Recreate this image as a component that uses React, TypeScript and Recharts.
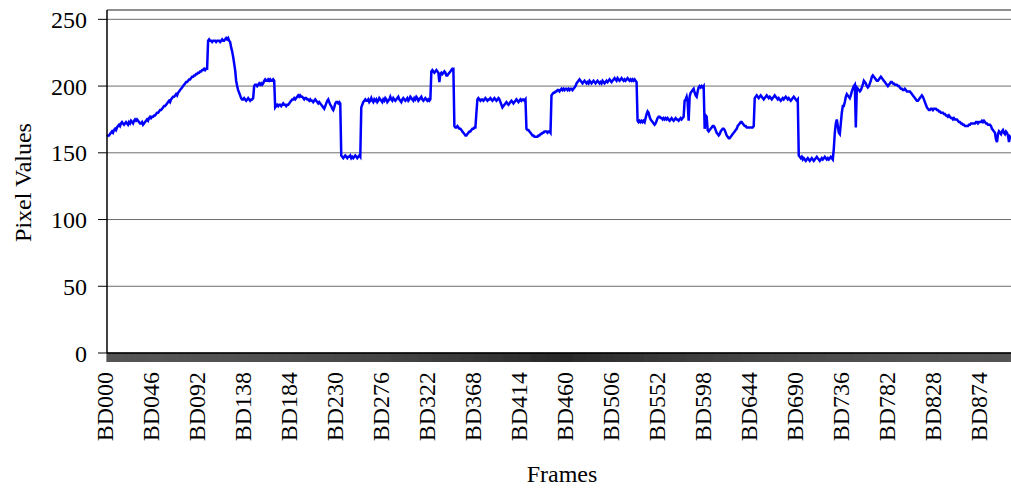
import React from 'react';
import { LineChart, Line, XAxis, YAxis, CartesianGrid, ReferenceLine, Label } from 'recharts';

// y axis
const Y_TICKS = [0, 50, 100, 150, 200, 250];
const Y_AXIS_MAX = 257;

// one frame label every 46 frames (BD000, BD046, ...)
const LABEL_STEP = 46;

// pixel value per frame, BD000..BD903
const PIXEL_VALUES: number[] = [
  // BD000
  162, 163, 163, 164, 165, 166, 165, 167, 168, 167, 169, 170, 171, 170, 172, 173, 172, 171, 172, 173, 172, 171, 173,
  172, 174, 173, 172, 174, 175, 174, 175, 174, 173, 172, 172, 173, 171, 172, 173, 174, 175, 174, 176, 177, 176, 177,
  // BD046
  177, 178, 178, 179, 180, 180, 181, 182, 182, 183, 184, 185, 185, 186, 187, 188, 189, 188, 190, 191, 192, 192, 193,
  194, 193, 195, 196, 197, 198, 199, 200, 201, 202, 203, 203, 204, 205, 205, 206, 207, 207, 208, 208, 209, 209, 210,
  // BD092
  210, 211, 211, 212, 212, 213, 212, 213, 213, 234, 235, 234, 234, 233, 234, 234, 234, 233, 234, 234, 234, 233, 234,
  235, 234, 234, 235, 236, 235, 236, 234, 233, 229, 226, 222, 217, 212, 204, 200, 197, 195, 193, 191, 190, 190, 191,
  // BD138
  190, 189, 190, 191, 190, 189, 190, 190, 191, 200, 201, 201, 200, 201, 202, 201, 202, 201, 202, 204, 205, 204, 204,
  205, 204, 205, 204, 204, 205, 204, 184, 185, 186, 185, 186, 186, 185, 186, 187, 186, 186, 185, 186, 186, 187, 188,
  // BD184
  189, 190, 190, 191, 190, 191, 192, 193, 192, 193, 192, 192, 191, 190, 191, 191, 190, 190, 189, 190, 189, 189, 188,
  189, 190, 189, 188, 187, 188, 187, 186, 185, 184, 183, 185, 187, 189, 190, 188, 186, 185, 183, 182, 184, 187, 188,
  // BD230
  188, 187, 188, 187, 148, 147, 146, 147, 148, 147, 146, 147, 147, 148, 146, 147, 146, 147, 148, 147, 146, 147, 148,
  147, 184, 186, 188, 189, 190, 189, 189, 190, 188, 189, 191, 189, 188, 190, 189, 190, 188, 189, 191, 190, 189, 188,
  // BD276
  190, 189, 191, 190, 188, 189, 190, 192, 190, 189, 191, 190, 189, 190, 191, 192, 190, 189, 188, 190, 191, 190, 189,
  190, 191, 189, 190, 192, 191, 190, 189, 191, 190, 192, 191, 189, 190, 191, 192, 190, 189, 190, 191, 190, 189, 190,
  // BD322
  189, 190, 211, 212, 211, 210, 211, 212, 211, 210, 203, 209, 210, 209, 210, 211, 210, 208, 208, 209, 210, 211, 212,
  213, 213, 170, 169, 169, 170, 169, 168, 168, 167, 166, 165, 164, 163, 163, 164, 165, 166, 166, 167, 168, 168, 169,
  // BD368
  169, 180, 190, 191, 190, 189, 190, 190, 189, 190, 191, 190, 189, 190, 190, 191, 190, 189, 190, 191, 190, 189, 190,
  191, 190, 188, 186, 184, 185, 186, 187, 188, 187, 186, 187, 188, 189, 188, 187, 188, 189, 190, 189, 188, 189, 190,
  // BD414
  189, 190, 190, 189, 190, 168, 167, 167, 166, 165, 164, 163, 163, 162, 162, 162, 162, 163, 163, 164, 164, 165, 165,
  166, 166, 166, 165, 166, 166, 165, 193, 194, 195, 195, 196, 196, 197, 197, 196, 197, 198, 197, 198, 197, 198, 198,
  // BD460
  197, 198, 197, 198, 198, 197, 198, 199, 200, 202, 203, 204, 205, 204, 203, 202, 203, 204, 203, 202, 203, 202, 204,
  203, 202, 203, 204, 203, 202, 203, 204, 203, 202, 203, 202, 204, 203, 202, 203, 204, 203, 204, 205, 204, 203, 204,
  // BD506
  205, 206, 205, 204, 206, 205, 204, 205, 206, 205, 204, 205, 204, 205, 206, 205, 204, 205, 204, 205, 204, 205, 204,
  203, 174, 173, 174, 173, 174, 173, 174, 173, 176, 179, 181, 180, 177, 175, 174, 173, 172, 171, 172, 174, 176, 177,
  // BD552
  177, 176, 176, 175, 176, 175, 176, 175, 176, 175, 174, 175, 176, 175, 174, 175, 176, 175, 175, 174, 175, 176, 175,
  176, 177, 189, 190, 192, 188, 174, 192, 195, 196, 197, 198, 195, 193, 192, 196, 199, 200, 199, 200, 199, 200, 168,
  // BD598
  178, 177, 167, 166, 167, 168, 169, 170, 170, 169, 167, 165, 164, 163, 164, 166, 167, 168, 168, 167, 165, 163, 162,
  161, 161, 162, 163, 164, 165, 166, 167, 168, 170, 171, 172, 173, 173, 172, 171, 170, 170, 169, 169, 169, 169, 169,
  // BD644
  169, 169, 170, 191, 192, 193, 192, 191, 192, 193, 192, 191, 190, 191, 192, 193, 192, 191, 192, 191, 190, 191, 192,
  193, 192, 191, 190, 191, 190, 189, 190, 191, 190, 191, 192, 191, 190, 191, 190, 189, 190, 191, 192, 191, 190, 189,
  // BD690
  190, 148, 147, 146, 147, 145, 146, 145, 144, 145, 146, 145, 144, 145, 146, 145, 144, 145, 146, 147, 146, 145, 144,
  145, 146, 145, 146, 147, 146, 145, 146, 145, 146, 147, 146, 145, 153, 165, 172, 175, 170, 165, 164, 172, 180, 185,
  // BD736
  185, 188, 192, 194, 193, 192, 191, 193, 196, 198, 200, 201, 169, 199, 198, 197, 196, 197, 199, 201, 204, 203, 202,
  200, 199, 200, 202, 204, 207, 208, 207, 206, 205, 204, 204, 205, 206, 207, 206, 205, 204, 203, 202, 201, 200, 201,
  // BD782
  202, 203, 203, 202, 202, 201, 201, 201, 200, 200, 199, 198, 198, 197, 197, 198, 197, 196, 196, 196, 196, 195, 194,
  193, 192, 191, 190, 189, 189, 190, 191, 192, 193, 192, 190, 188, 186, 184, 183, 182, 182, 183, 183, 182, 183, 183,
  // BD828
  183, 182, 182, 181, 181, 180, 180, 180, 179, 179, 178, 178, 177, 178, 177, 176, 176, 175, 176, 175, 175, 175, 174,
  173, 173, 172, 172, 171, 171, 170, 170, 170, 170, 171, 171, 172, 172, 172, 172, 172, 173, 173, 172, 173, 173, 173,
  // BD874
  174, 173, 174, 173, 172, 172, 171, 171, 171, 170, 168, 167, 166, 165, 160, 158, 164, 166, 165, 164,
  166, 167, 165, 164, 166, 165, 163, 158, 162, 161,
];

const FONT = '"Liberation Serif", "Times New Roman", serif';

const data = PIXEL_VALUES.map((value, i) => ({
  frame: 'BD' + String(i).padStart(3, '0'),
  value,
}));

// every frame gets a tick mark, only every 46th gets its rotated label
const FrameTick = (props: any) => {
  const { x, y, index, payload } = props;
  const ty = y + 19;
  return (
    <g>
      <line x1={x} y1={y} x2={x} y2={y + 9} stroke="#000" strokeWidth={0.85} />
      {index % LABEL_STEP === 0 && (
        <text
          x={x}
          y={ty}
          dy={5.5}
          transform={`rotate(-90, ${x}, ${ty})`}
          textAnchor="end"
          fontSize={24}
          fontFamily={FONT}
          fill="#000"
        >
          {payload.value}
        </text>
      )}
    </g>
  );
};

const FramesTitle = ({ viewBox }: any) => (
  <text
    x={viewBox.x + viewBox.width / 2 + 3}
    y={viewBox.y + 129}
    textAnchor="middle"
    fontSize={24}
    fontFamily={FONT}
    fill="#000"
  >
    Frames
  </text>
);

const PixelTitle = ({ viewBox }: any) => {
  const cx = viewBox.x + 31;
  const cy = viewBox.y + viewBox.height / 2 + 1;
  return (
    <text
      x={cx}
      y={cy}
      transform={`rotate(-90, ${cx}, ${cy})`}
      textAnchor="middle"
      fontSize={24}
      fontFamily={FONT}
      fill="#000"
    >
      Pixel Values
    </text>
  );
};

export default function App() {
  return (
    <div
      style={{
        position: 'absolute',
        left: 0,
        top: 0,
        width: 1011,
        height: 488,
        background: '#fff',
        fontFamily: FONT,
      }}
    >
      <LineChart width={1011} height={488} data={data} margin={{ top: 10, right: 0, bottom: 0, left: 0 }}>
        <CartesianGrid vertical={false} stroke="#6e6e6e" strokeWidth={1} />
        <ReferenceLine y={Y_AXIS_MAX} stroke="#808080" strokeWidth={1.5} />
        <XAxis
          dataKey="frame"
          interval={0}
          height={135}
          tickSize={0}
          tickMargin={0}
          tickLine={false}
          tick={<FrameTick />}
          axisLine={{ stroke: '#000', strokeWidth: 1.5 }}
        >
          <Label content={<FramesTitle />} />
        </XAxis>
        <YAxis
          type="number"
          domain={[0, Y_AXIS_MAX]}
          ticks={Y_TICKS}
          width={107}
          tickSize={9}
          tickMargin={11}
          axisLine={{ stroke: '#000', strokeWidth: 1.5 }}
          tickLine={{ stroke: '#000', strokeWidth: 1 }}
          tick={{ fontSize: 24, fill: '#000', fontFamily: FONT }}
        >
          <Label content={<PixelTitle />} />
        </YAxis>
        <Line
          type="linear"
          dataKey="value"
          stroke="#0000FF"
          strokeWidth={2.5}
          dot={false}
          isAnimationActive={false}
        />
      </LineChart>
    </div>
  );
}
